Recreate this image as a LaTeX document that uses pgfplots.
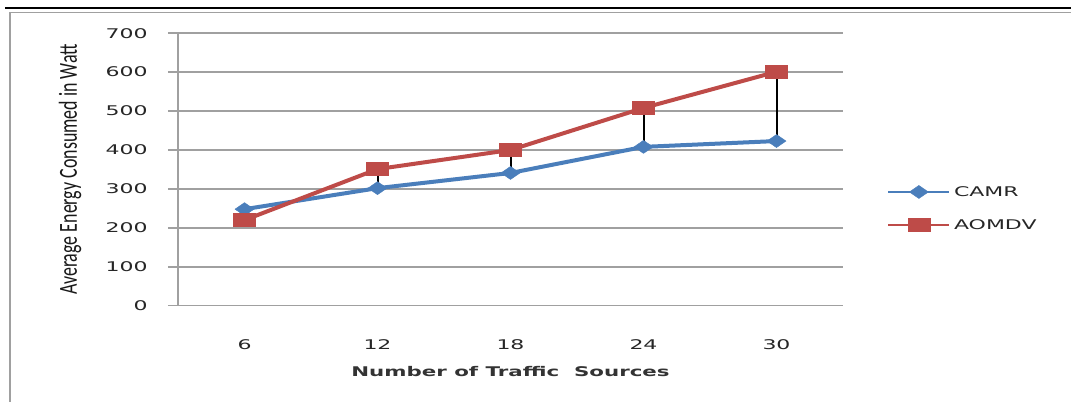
\documentclass[border=0pt]{standalone}
\usepackage{fontspec}
\usepackage{pgfplots}
\pgfplotsset{compat=1.18}
\setmainfont{DejaVu Sans}
\newfontfamily\widefont[FakeStretch=1.65]{DejaVu Sans}
\newfontfamily\widebold[FakeStretch=1.6]{DejaVu Sans Bold}
\newfontfamily\narrowfont[FakeStretch=0.69]{Carlito}
\definecolor{camr}{HTML}{4A7EBB}
\definecolor{aomdv}{HTML}{BE4B48}
\definecolor{gridgray}{HTML}{A0A0A0}
\begin{document}
\begin{tikzpicture}
\useasboundingbox (0,0) rectangle (803.25pt,301.5pt);
\draw[gridgray, line width=1.1pt] (7.5pt,0pt) -- (7.5pt,292.1pt) -- (803.25pt,292.1pt);
\draw[black, line width=1.5pt] (3.75pt,295.5pt) -- (803.25pt,295.5pt);
\begin{axis}[
  at={(133.5pt,72.2pt)}, anchor=south west,
  scale only axis, width=498.75pt, height=204.4pt,
  xmin=0.5, xmax=5.5, ymin=0, ymax=700,
  xtick={1,2,3,4,5}, xticklabels={6,12,18,24,30},
  ytick={0,100,...,700},
  /pgf/number format/assume math mode=true,
  axis x line*=bottom, axis y line*=left,
  axis line style={gridgray, line width=1.1pt},
  ymajorgrids, grid style={gridgray, line width=1.1pt},
  tick align=outside, major tick length=7.5pt,
  xtick style={draw=none}, ytick style={gridgray, line width=1.1pt},
  ticklabel style={font=\widefont\fontsize{10}{12}\selectfont, text=black!85},
  yticklabel style={anchor=east, inner sep=0pt, xshift=-15pt},
  xticklabel style={anchor=north, inner sep=0pt, yshift=-18pt},
  xlabel={Number of Traffic\ \ Sources},
  xlabel style={font=\widebold\fontsize{10}{12}\selectfont, text=black!80, at={(axis description cs:0.5,-0.242)}, anchor=center},
  ylabel={Average Energy Consumed in Watt},
  ylabel style={font=\narrowfont\fontsize{19.5}{22}\selectfont, text=black!90, at={(axis description cs:-0.1624,0.5)}, anchor=center},
  legend style={at={(axis description cs:1.0662,0.357)}, anchor=west, draw=none, fill=none, inner sep=0pt, outer sep=0pt,
    font=\widefont\fontsize{10}{12}\selectfont, text=black!85, row sep=12.4pt,
    nodes={inner sep=2.5pt, text height=7.3pt, text depth=0pt}},
  legend cell align=left,
  legend image code/.code={\draw[line width=2pt, mark repeat=2, mark phase=2] plot coordinates {(0pt,0pt) (22.9pt,0pt) (45.75pt,0pt)};},
]
\addplot[camr, line width=3pt, mark=diamond*, mark size=4.9pt,
  mark options={solid, xscale=1.94, fill=camr, draw=camr, line width=0.3pt}]
  coordinates {(1,248) (2,302) (3,341) (4,408) (5,423)};
\addlegendentry{CAMR}
\addplot[aomdv, line width=3pt, mark=square*, mark size=4.9pt,
  mark options={solid, xscale=1.69, fill=aomdv, draw=aomdv, line width=0.3pt}]
  coordinates {(1,220) (2,351) (3,400) (4,508) (5,601)};
\addlegendentry{AOMDV}
\addplot[black, line width=1.5pt, forget plot] coordinates {(1,220) (1,248)};
\addplot[black, line width=1.5pt, forget plot] coordinates {(2,302) (2,351)};
\addplot[black, line width=1.5pt, forget plot] coordinates {(3,341) (3,400)};
\addplot[black, line width=1.5pt, forget plot] coordinates {(4,408) (4,508)};
\addplot[black, line width=1.5pt, forget plot] coordinates {(5,423) (5,601)};
\end{axis}
\end{tikzpicture}
\end{document}
